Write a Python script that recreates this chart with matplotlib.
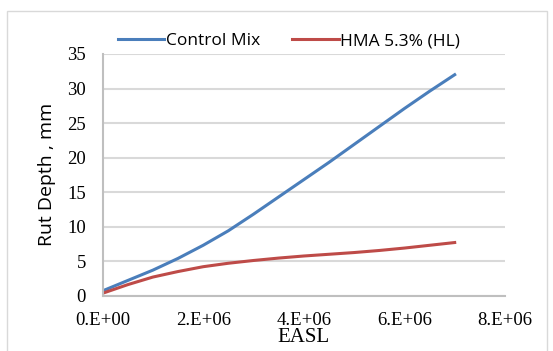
import numpy as np
import matplotlib.pyplot as plt
from matplotlib.patches import Rectangle

# Rut depth vs. equivalent axle single loads
easl = [0, 0.5e6, 1.0e6, 1.5e6, 2.0e6, 2.5e6, 3.0e6, 3.5e6, 4.0e6,
        4.5e6, 5.0e6, 5.5e6, 6.0e6, 6.5e6, 7.0e6]
control_mix = [0.7, 2.2, 3.7, 5.4, 7.3, 9.4, 11.8, 14.3, 16.8,
               19.3, 21.9, 24.5, 27.1, 29.6, 32.0]
hma_hl = [0.35, 1.6, 2.7, 3.5, 4.2, 4.7, 5.1, 5.45, 5.75,
          6.0, 6.25, 6.55, 6.9, 7.3, 7.7]

x_ticks = [0, 2e6, 4e6, 6e6, 8e6]
x_tick_labels = ["0.E+00", "2.E+06", "4.E+06", "6.E+06", "8.E+06"]
y_ticks = [0, 5, 10, 15, 20, 25, 30, 35]

serif = "Liberation Serif"
sans = "Open Sans"

fig = plt.figure(figsize=(5.53, 3.51), dpi=100)
fig.patches.append(Rectangle((7 / 553, -0.05), 540 / 553, 1.05 - 11 / 351,
                             transform=fig.transFigure, fill=False,
                             edgecolor="#d9d9d9", linewidth=1.0))

ax = fig.add_axes([0.1854, 0.1575, 0.7278, 0.6887])
ax.plot(easl, control_mix, color="#4a7ebb", linewidth=2.2, label="Control Mix")
ax.plot(easl, hma_hl, color="#be4b48", linewidth=2.2, label="HMA 5.3% (HL)")

ax.set_xlim(0, 8e6)
ax.set_ylim(0, 35)
ax.set_xticks(x_ticks)
ax.set_xticklabels(x_tick_labels, fontfamily=serif, fontsize=13.5)
ax.set_yticks(y_ticks)
ax.set_yticklabels([str(v) for v in y_ticks], fontfamily=serif, fontsize=13.5)
ax.tick_params(axis="x", length=0, pad=12)
ax.tick_params(axis="y", length=0, pad=12)

ax.grid(axis="y", color="#d9d9d9", linewidth=1.5)
ax.set_axisbelow(True)
for side in ("top", "right"):
    ax.spines[side].set_visible(False)
ax.spines["left"].set_color("#bfbfbf")
ax.spines["bottom"].set_color("#bfbfbf")
ax.spines["left"].set_linewidth(1.5)
ax.spines["bottom"].set_linewidth(1.5)

ax.set_xlabel("EASL", fontfamily=serif, fontsize=15, labelpad=-1)
ax.set_ylabel("Rut Depth , mm", fontfamily=sans, fontsize=14, labelpad=8)

ax.legend(loc="lower left", bbox_to_anchor=(0.02, 0.99), ncol=2, frameon=False,
          prop={"family": sans, "size": 12.5}, handlelength=2.7,
          handletextpad=0.1, columnspacing=1.8, borderaxespad=0)

fig.savefig("out.png", dpi=100)
